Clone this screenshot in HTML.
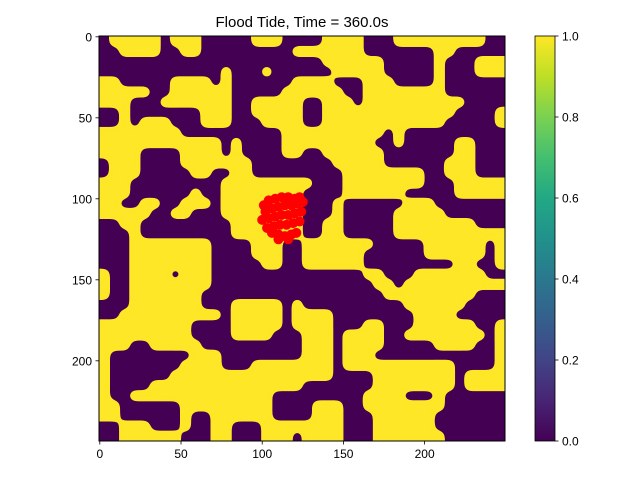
<!DOCTYPE html>
<html><head><meta charset="utf-8"><style>
body{margin:0;background:#fff}
svg{display:block;font-family:"Liberation Sans","DejaVu Sans",sans-serif}
</style></head><body>
<svg id="fig" width="640" height="480" viewBox="0 0 640 480">
<defs>
<linearGradient id="vir" x1="0" y1="1" x2="0" y2="0">
<stop offset="0" stop-color="#440154"/><stop offset="0.1" stop-color="#482475"/><stop offset="0.2" stop-color="#414487"/><stop offset="0.3" stop-color="#355f8d"/><stop offset="0.4" stop-color="#2a788e"/><stop offset="0.5" stop-color="#21918c"/><stop offset="0.6" stop-color="#22a884"/><stop offset="0.7" stop-color="#44bf70"/><stop offset="0.8" stop-color="#7ad151"/><stop offset="0.9" stop-color="#bddf26"/><stop offset="1" stop-color="#fde725"/>
</linearGradient>
<filter id="goo" x="-5%" y="-5%" width="110%" height="110%">
<feGaussianBlur in="SourceGraphic" stdDeviation="4"/>
<feColorMatrix values="1 0 0 0 0  0 1 0 0 0  0 0 1 0 0  0 0 0 24 -11"/>
</filter>
<clipPath id="plotclip"><rect x="99" y="36" width="406" height="405"/></clipPath>
</defs>
<text x="302" y="27" font-size="15" text-anchor="middle">Flood Tide, Time = 360.0s</text>
<rect x="99" y="36" width="406" height="405" fill="#440154"/>
<g clip-path="url(#plotclip)"><g id="heat" filter="url(#goo)"></g></g>
<g id="red"></g>
<rect x="99" y="36" width="406" height="405" fill="none" stroke="#000" stroke-width="1"/>
<g id="xt"></g>
<g id="yt"></g>
<rect x="535" y="36" width="20" height="405" fill="url(#vir)" stroke="#000" stroke-width="0.8"/>
<g id="ct"></g>
</svg>
<script>
const leftTop = [".YYYYY.YYY.....YYY..","..YYYY..YY.........Y","....................","............Y...Y...","YY.....YYYY.Y......Y","YYYYY..YYYYYY.....YY","YYY...YYYYYYY..YYYYY","..Y.......YYY..YYYYY","..Y.YYY...YYY...YYYY","YYYYYYYY..........YY","YYYYYYYYYYYY.Y....YY","YYYY....YYYY.Y....YY",".YYY....YYYYYYY.....",".YYY.....YY..YY.....","YYY.........YYYYYYYY","YYY......Y..YYYYYYYY","YY..YY..YYY.YYYYYYYY","YYYYY..YY...YYYYYYYY","..YY.........YYYYYYY","...Y.........YYYYYYY"];
const rightTop = ["..YYYY...YYYYYYYYY..","YYYYYY.......YY.....","..YYYYYY.....Y...YYY","...YYYYY.....Y...YYY","YYY...YYY....Y......","YYYY..YYYYYYYY......","..YYY.YYYYYYYYYY....","..YYYYYYYYYYYYY....Y","..YYYYYYYYYYYY.....Y","YYYYYYYY.Y..........","YYYYYYY..Y.....YY...","..YYYYYY.......YY...","...YYYYY......YYY...","....YYYYYYYY..YYY...","Y...YYYYYYYY...YYYYY","....YYYYYY.....YYYYY","...Y......YYY.......","...Y.....YYYYY......","..YY.....YYYYYYYY...","..YY.....YYYYYYYYYYY"];
const leftBottom = ["...YYYYYYYY....YYY..","...YYYYYYYY....YYY..","...YYYYYYYY.....YY..","Y..YYYY.YYY.........","Y..YYYYYYYY.........","Y..YYYYYYY..........","...YYYYYYY...YYYYY.Y","..YYYYYYYYYY.YYYYY.Y","YYYYYYYYY....YYYYY.Y","YYYYYYYYY....YYYY...","YYY..YYYYY..........","Y........YYY........","Y.......YYYY...YYYYY","Y......YYYYYYYYYYYYY","Y....YYYYYYYYYYYYYYY","Y..YYYYYYYYYYYYYY...","YY......YYYYYYYYY...","YY......Y..YYYYYY...","..YYY...Y..YY...YYYY","..YYYYYY...YY...YYY."];
const rightBottom = ["YYYYYYY.....YYYYYY.Y","YYYYYY......YYYYYY.Y","YYYYYY.........YY..Y","......YY...YYYYYYY..",".......YY.YYYYYYYYYY","........YYYYYYYYY...","..........YYYYYY....","YYY........YYYY.....","YYY...YY...YYYYYY..Y","YYY.YYYY..YYYYYYYY.Y","YYY.YYYY.....YYYY..Y","YYY.YYY............Y","YYY.YYYYYYYYYYY....Y","YYY....YYYYYYYY.YYYY",".......YYYYYYYY.YYYY","......YYYY...Y......",".YYY..YYYYYYYY......",".YYY...YYYYYY.......","YYYY...YYYYYY.......","YYYY...YYYYYYY......"];
const xTicks = [0, 50, 100, 150, 200];
const yTicks = [0, 50, 100, 150, 200];
const cbTicks = ["0.0", "0.2", "0.4", "0.6", "0.8", "1.0"];
const redX = [101,104,108,112,116,120,123,102,106,110,114,118,122,125,100,104,108,112,116,120,124,103,107,111,115,119,123,106,110,114,118,121,110,116];
const redY = [104,101,100,99,99,100,99,108,106,105,104,104,103,102,113,112,111,110,110,109,108,118,117,116,116,115,114,121,122,123,122,121,125,125];

const gridRows = leftTop.map((s, i) => s + rightTop[i]).concat(leftBottom.map((s, i) => s + rightBottom[i]));
const NS = "http://www.w3.org/2000/svg";
const X0 = 99, Y0 = 36, W = 406, H = 405, N = 250;
const sx = v => X0 + (v + 0.5) * W / N;
const sy = v => Y0 + (v + 0.5) * H / N;
function mk(tag, attrs, parent) {
  const e = document.createElementNS(NS, tag);
  for (const k in attrs) e.setAttribute(k, attrs[k]);
  parent.appendChild(e);
  return e;
}
const heat = document.getElementById('heat');
const R = gridRows.length, C = 40;
const cw = W / C, ch = H / R;
gridRows.forEach((row, r) => {
  for (let c = 0; c < C; c++) {
    if (row[c] !== 'Y') continue;
    let x = X0 + c * cw, y = Y0 + r * ch, w = cw + 0.6, h = ch + 0.6;
    if (c === 0) { x -= 12; w += 12; }
    if (c === C - 1) { w += 12; }
    if (r === 0) { y -= 12; h += 12; }
    if (r === R - 1) { h += 12; }
    const cell = mk('rect', {x: x.toFixed(2), y: y.toFixed(2), width: w.toFixed(2), height: h.toFixed(2), fill: '#fde725'}, heat);
    
    
  }
});
const red = document.getElementById('red');
redX.forEach((x, i) => {
  const d = mk('circle', {cx: sx(x), cy: sy(redY[i]), r: 5, fill: '#ff0000'}, red);
  
  
});
const xt = document.getElementById('xt');
xTicks.forEach(v => {
  const x = sx(v);
  const t = mk('line', {x1: x, x2: x, y1: 441, y2: 444.5, stroke: '#000', 'stroke-width': 0.8}, xt);
  
  
  const l = mk('text', {x: x, y: 458, 'font-size': 12, 'text-anchor': 'middle'}, xt);
  l.textContent = v;
  
  
});
const yt = document.getElementById('yt');
yTicks.forEach(v => {
  const y = sy(v);
  const t = mk('line', {x1: 95.5, x2: 99, y1: y, y2: y, stroke: '#000', 'stroke-width': 0.8}, yt);
  
  
  const l = mk('text', {x: 92, y: y + 4.5, 'font-size': 12, 'text-anchor': 'end'}, yt);
  l.textContent = v;
  
  
});
const ct = document.getElementById('ct');
cbTicks.forEach(s => {
  const y = 441 - parseFloat(s) * 405;
  const t = mk('line', {x1: 555, x2: 558.5, y1: y, y2: y, stroke: '#000', 'stroke-width': 0.8}, ct);
  
  
  const l = mk('text', {x: 562, y: y + 4.5, 'font-size': 12}, ct);
  l.textContent = s;
  
  
});
</script>
</body></html>
